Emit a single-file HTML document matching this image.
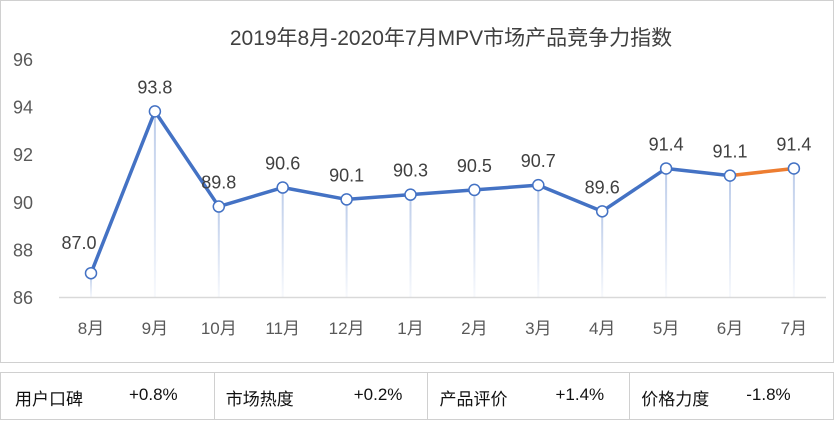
<!DOCTYPE html>
<html><head><meta charset="utf-8">
<style>
body{margin:0;width:834px;height:421px;background:#fff;font-family:"Liberation Sans","Noto Sans CJK SC",sans-serif;overflow:hidden;position:relative}
#chart{position:absolute;left:0;top:0;width:832px;height:361px;border:1px solid #d0d0d0}
#tbl{position:absolute;left:0;top:372px;width:832px;height:46px;border:1px solid #d0d0d0;display:flex}
.cell{position:relative;height:46px;border-right:1px solid #d0d0d0;font-size:17px;color:#111}
.cell span{position:absolute;top:12px}
</style></head><body>
<div id="chart">
<svg id="svg" width="832" height="361" xmlns="http://www.w3.org/2000/svg">
<defs><linearGradient id="dg" x1="0" y1="0" x2="0" y2="1"><stop offset="0" stop-color="#b4c6e7" stop-opacity="0.9"/><stop offset="1" stop-color="#b4c6e7" stop-opacity="0.1"/></linearGradient></defs>
<text x="450" y="44" text-anchor="middle" font-size="21" fill="#404040" font-family="Liberation Sans, Noto Sans CJK SC, sans-serif">2019年8月-2020年7月MPV市场产品竞争力指数</text>
</svg></div>
<div id="tbl">
<div class="cell" style="width:213px"><span style="left:14px">用户口碑</span><span style="left:128px">+0.8%</span></div>
<div class="cell" style="width:212px"><span style="left:11px">市场热度</span><span style="left:139px">+0.2%</span></div>
<div class="cell" style="width:202px"><span style="left:12px">产品评价</span><span style="left:128px">+1.4%</span></div>
<div class="cell" style="width:203px;border-right:none"><span style="left:11px">价格力度</span><span style="left:116px">-1.8%</span></div>
</div>
<script>
const categories=["8月","9月","10月","11月","12月","1月","2月","3月","4月","5月","6月","7月"];
const values=[87.0,93.8,89.8,90.6,90.1,90.3,90.5,90.7,89.6,91.4,91.1,91.4];
const yTicks=[86,88,90,92,94,96];
const NS="http://www.w3.org/2000/svg";
const svg=document.getElementById('svg');
const x=i=>90+i*63.9;
const y=v=>296-(v-86)*23.8;
function mk(t,a){const e=document.createElementNS(NS,t);for(const k in a)e.setAttribute(k,a[k]);svg.appendChild(e);return e;}
yTicks.forEach(t=>{const e=mk('text',{x:22,y:y(t)+7,'text-anchor':'middle','font-size':18,fill:'#595959'});e.textContent=t;

});
const ax=mk('line',{x1:58,x2:825,y1:296.5,y2:296.5,stroke:'#d9d9d9','stroke-width':1.5});


categories.forEach((c,i)=>{
const e=mk('text',{x:x(i),y:333,'text-anchor':'middle','font-size':17,fill:'#595959','font-family':'Liberation Sans, Noto Sans CJK SC, sans-serif'});e.textContent=c;


const d=mk('rect',{x:x(i)-1,y:y(values[i]),width:2,height:296-y(values[i]),fill:'url(#dg)'});


});
let pts=values.slice(0,11).map((v,i)=>x(i)+','+y(v)).join(' ');
const l=mk('polyline',{points:pts,fill:'none',stroke:'#4472c4','stroke-width':3.5,'stroke-linejoin':'round'});


const l2=mk('line',{x1:x(10),y1:y(values[10]),x2:x(11),y2:y(values[11]),stroke:'#ed7d31','stroke-width':3.5});


values.forEach((v,i)=>{
const c=mk('circle',{cx:x(i),cy:y(v),r:5.5,fill:'#fff',stroke:'#4472c4','stroke-width':1.5});


const t=mk('text',{x:x(i)+(i==0?-12:0),y:i==0?y(v)-24:y(v)-18,'text-anchor':'middle','font-size':18,fill:'#404040'});t.textContent=v.toFixed(1);


});
</script>
</body></html>
